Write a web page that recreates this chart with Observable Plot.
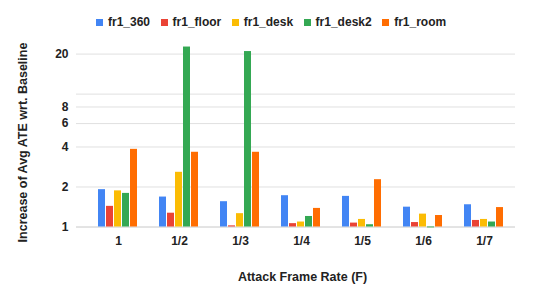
<!DOCTYPE html>
<html>
<head>
<meta charset="utf-8">
<script src="https://cdn.jsdelivr.net/npm/d3@7"></script>
<script src="https://cdn.jsdelivr.net/npm/@observablehq/plot@0.6"></script>
<style>
  body { margin: 0; background: #fff; }
  #wrap { position: relative; width: 540px; height: 298px; font-family: "Liberation Sans", Arial, sans-serif; }
  #wrap svg { position: absolute; left: 0; top: 0; }
  #legend { position: absolute; left: 96px; top: 15px; display: flex; align-items: center; font: bold 12px "Liberation Sans", Arial, sans-serif; color: #222; z-index: 3; white-space: nowrap; }
  #legend .item { display: flex; align-items: center; margin-right: 10.5px; }
  #legend .sw { width: 7px; height: 7px; margin-right: 5px; }
</style>
</head>
<body>
<div id="wrap"><div id="legend"></div></div>
<script>
const categories = ["1", "1/2", "1/3", "1/4", "1/5", "1/6", "1/7"];
const series = ["fr1_360", "fr1_floor", "fr1_desk", "fr1_desk2", "fr1_room"];
const colors = ["#4285F4", "#EA4335", "#FBBC04", "#34A853", "#FF6D01"];
const fr1_360   = [1.91, 1.68, 1.55, 1.72, 1.70, 1.41, 1.47];
const fr1_floor = [1.43, 1.27, 1.02, 1.06, 1.07, 1.08, 1.12];
const fr1_desk  = [1.87, 2.58, 1.26, 1.09, 1.14, 1.25, 1.14];
const fr1_desk2 = [1.79, 22.6, 20.9, 1.20, 1.04, 0.985, 1.09];
const fr1_room  = [3.84, 3.65, 3.65, 1.38, 2.27, 1.22, 1.40];
const yTicks = [1, 2, 4, 6, 8, 10, 20];
const yTickLabels = ["1", "2", "4", "6", "8", "", "20"];
const xTitle = "Attack Frame Rate (F)";
const yTitle = "Increase of Avg ATE wrt. Baseline";

const valuesBySeries = [fr1_360, fr1_floor, fr1_desk, fr1_desk2, fr1_room];
const data = [];
categories.forEach((c, i) => series.forEach((s, j) => data.push({cat: c, series: s, value: valuesBySeries[j][i]})));

const font = '"Liberation Sans", Arial, sans-serif';
const yScale = {type: "log", domain: [1, 10], range: [226.5, 93.6]};

const back = Plot.plot({
  width: 540, height: 298,
  marginLeft: 76, marginRight: 25, marginTop: 57, marginBottom: 71,
  x: {axis: null},
  y: {...yScale, axis: null},
  style: {fontFamily: font, color: "#222", background: "white"},
  marks: [
    Plot.ruleY(yTicks, {y: d => d, stroke: d => d === 1 ? "#c8c8c8" : "#e0e0e0", strokeWidth: 1}),
    Plot.text(yTicks, {y: d => d, text: (d, i) => yTickLabels[i], frameAnchor: "left", textAnchor: "end", dx: -8, fontSize: 12, fontWeight: "bold", fill: "#222"}),
    Plot.text([yTitle], {text: d => d, frameAnchor: "left", textAnchor: "middle", lineAnchor: "middle", dx: -54, rotate: -90, fontSize: 12.5, fontWeight: "bold", fill: "#222"}),
    Plot.text([xTitle], {text: d => d, frameAnchor: "bottom", textAnchor: "middle", lineAnchor: "middle", dx: 6.5, dy: 49, fontSize: 12.5, fontWeight: "bold", fill: "#222"})
  ]
});

const bars = Plot.plot({
  width: 540, height: 298,
  marginLeft: 86, marginRight: 25, marginTop: 20, marginBottom: 71,
  fx: {domain: categories, paddingInner: 0.35, paddingOuter: 0.175, axis: "bottom", tickSize: 0, tickPadding: 9, label: null},
  x: {domain: series, paddingInner: 0.1, paddingOuter: 0, axis: null},
  y: {...yScale, axis: null},
  color: {domain: series, range: colors},
  style: {fontFamily: font, fontSize: "12px", fontWeight: "bold", color: "#222", background: "none"},
  marks: [
    Plot.barY(data, {fx: "cat", x: "series", y1: 1, y2: "value", fill: "series"})
  ]
});

const wrap = document.getElementById("wrap");
wrap.appendChild(back);
wrap.appendChild(bars);

const legend = document.getElementById("legend");
series.forEach((s, i) => {
  const item = document.createElement("div");
  item.className = "item";
  const sw = document.createElement("div");
  sw.className = "sw";
  sw.style.background = colors[i];
  const t = document.createElement("span");
  t.textContent = s;
  item.appendChild(sw);
  item.appendChild(t);
  legend.appendChild(item);
});
</script>
</body>
</html>
